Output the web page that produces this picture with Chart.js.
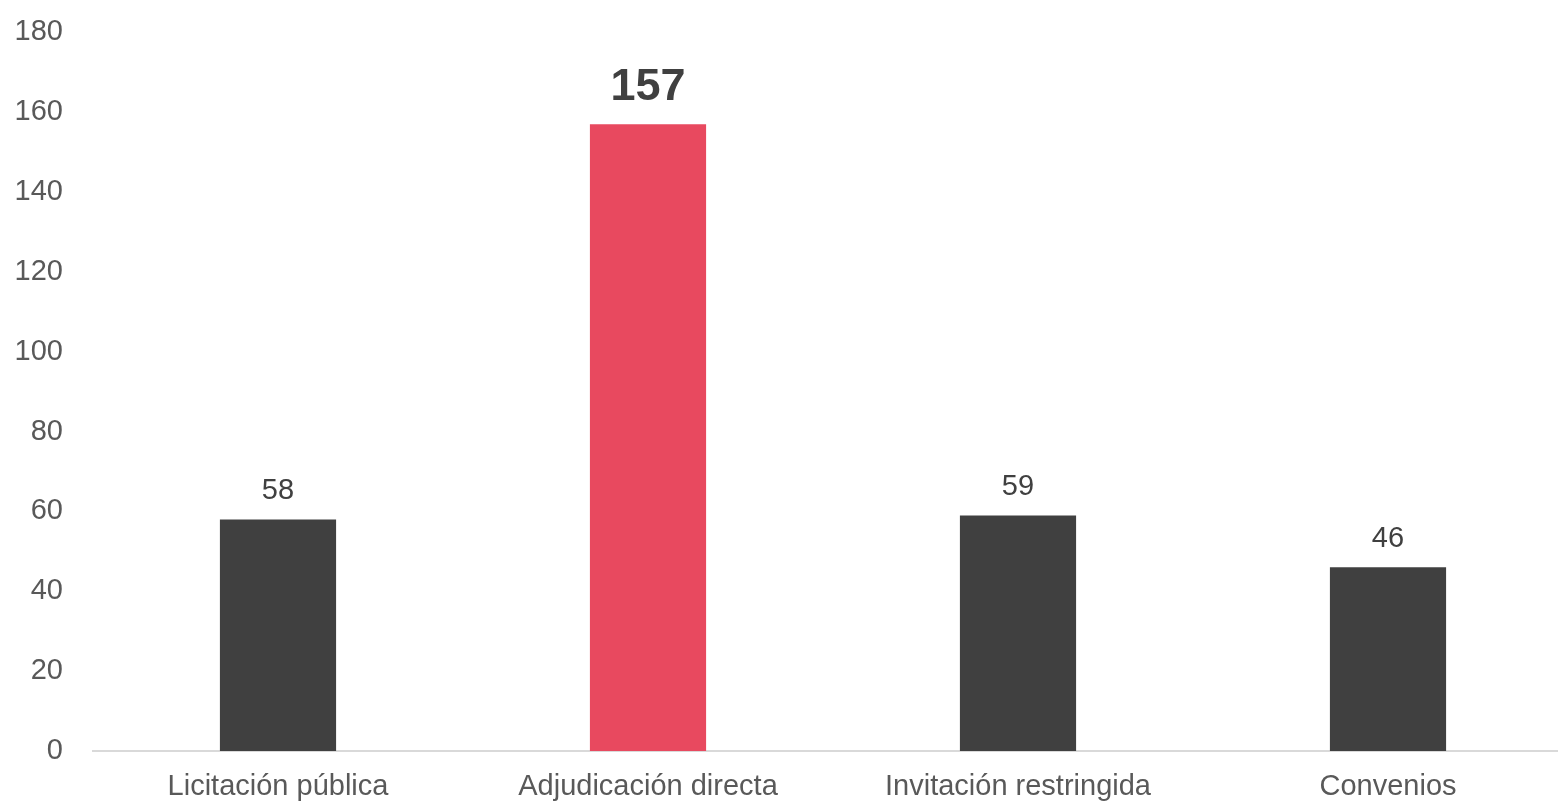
<!DOCTYPE html>
<html>
<head>
<meta charset="utf-8">
<script src="https://cdn.jsdelivr.net/npm/chart.js@4/dist/chart.umd.min.js"></script>
<style>
  html, body { margin: 0; padding: 0; background: #fff; overflow: hidden; width: 1558px; height: 803px; }
  #procChart { display: block; margin-top: -15px; }
</style>
</head>
<body>
<canvas id="procChart" width="1573" height="818"></canvas>
<script>
const categories = ['Licitación pública', 'Adjudicación directa', 'Invitación restringida', 'Convenios'];
const values = [58, 157, 59, 46];
const barColors = ['#404040', '#E8495F', '#404040', '#404040'];
const highlighted = [false, true, false, false];

// value labels above the bars
const valueLabels = {
  id: 'valueLabels',
  afterDatasetsDraw(chart) {
    const ctx = chart.ctx;
    const meta = chart.getDatasetMeta(0);
    ctx.save();
    ctx.textAlign = 'center';
    ctx.textBaseline = 'alphabetic';
    ctx.fillStyle = '#404040';
    meta.data.forEach((bar, i) => {
      if (highlighted[i]) {
        ctx.font = 'bold 45px "Liberation Sans", Arial, sans-serif';
        ctx.fillText(values[i], bar.x, bar.y - 24);
      } else {
        ctx.font = '29px "Liberation Sans", Arial, sans-serif';
        ctx.fillText(values[i], bar.x, bar.y - 20);
      }
    });
    ctx.restore();
  }
};

const ctx = document.getElementById('procChart').getContext('2d');
new Chart(ctx, {
  type: 'bar',
  data: {
    labels: categories,
    datasets: [{
      data: values,
      backgroundColor: barColors,
      borderWidth: 0,
      categoryPercentage: 1,
      barPercentage: 0.314
    }]
  },
  options: {
    responsive: false,
    animation: false,
    layout: { padding: 0 },
    plugins: {
      legend: { display: false },
      tooltip: { enabled: false }
    },
    scales: {
      x: {
        grid: { display: false, drawTicks: false },
        border: { display: true, color: '#D9D9D9', width: 2 },
        ticks: {
          color: '#595959',
          font: { family: '"Liberation Sans", Arial, sans-serif', size: 29 },
          padding: 19,
          maxRotation: 0
        },
        afterFit(scale) { scale.height = 52; }
      },
      y: {
        min: 0,
        max: 180,
        grid: { display: false, drawTicks: false },
        border: { display: false },
        ticks: {
          stepSize: 20,
          color: '#595959',
          font: { family: '"Liberation Sans", Arial, sans-serif', size: 29 },
          padding: 30
        },
        afterFit(scale) { scale.width = 93; }
      }
    }
  },
  plugins: [valueLabels]
});
</script>
</body>
</html>
